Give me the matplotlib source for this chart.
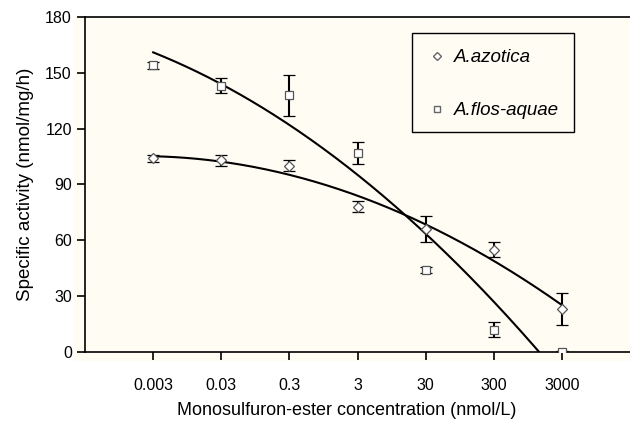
import numpy as np
import matplotlib
matplotlib.use("Agg")
import matplotlib.pyplot as plt
from matplotlib.patches import Rectangle

plt.rcParams["font.family"] = ["Liberation Sans", "DejaVu Sans"]

# ── data ─────────────────────────────────────────────────────────────────────
conc_labels = ["0.003", "0.03", "0.3", "3", "30", "300", "3000"]
azotica = [104, 103, 100, 78, 66, 55, 23]
azotica_err = [2, 3, 3, 3, 7, 4, 8.5]
flos = [154, 143, 138, 107, 44, 12, 0]
flos_err = [2, 4, 11, 6, 1.5, 4, 0.5]

pos = np.arange(1, len(conc_labels) + 1)
BG = "#fefcf3"

fig = plt.figure(figsize=(6.3, 4.21), dpi=100)
# cream plot area slightly larger than the axes box
fig.patches.append(Rectangle((74 / 630, 61 / 421), 556 / 630, 343 / 421,
                             transform=fig.transFigure, color=BG, zorder=-1))
ax = fig.add_axes([0.135, 0.164, 0.865, 0.796])
ax.set_zorder(1)
ax.set_facecolor(BG)

# second-order polynomial trend lines
xs = np.linspace(1, 7, 300)
ca = np.polyfit(pos, azotica, 2)
ax.plot(xs, np.polyval(ca, xs), color="black", lw=1.5, zorder=2)
cf = np.polyfit(pos, flos, 2)
yf = np.polyval(cf, xs)
keep = yf >= 0
ax.plot(xs[keep], yf[keep], color="black", lw=1.5, zorder=2)

ax.errorbar(pos, azotica, yerr=azotica_err, fmt="D", ms=5.5, mfc="white",
            mec="#555555", mew=0.9, ecolor="black", elinewidth=1.5,
            capsize=4, capthick=1.5, zorder=3)
ax.errorbar(pos, flos, yerr=flos_err, fmt="s", ms=6, mfc="white",
            mec="#555555", mew=0.9, ecolor="black", elinewidth=1.5,
            capsize=4, capthick=1.5, zorder=3)

ax.set_xlim(0, 8)
ax.set_ylim(0, 180)
ax.set_xticks(pos)
ax.set_xticklabels(conc_labels, fontsize=11.5)
ax.set_yticks(np.arange(0, 181, 30))
ax.tick_params(axis="y", labelsize=11.5, direction="out", length=6, width=1.2)
ax.tick_params(axis="x", direction="out", length=6, width=1.2, pad=13)
for s in ["left", "bottom", "top"]:
    ax.spines[s].set_linewidth(1.2)
ax.spines["right"].set_visible(False)

ax.set_xlabel("Monosulfuron-ester concentration (nmol/L)", fontsize=13)
ax.xaxis.set_label_coords(0.481, -0.149)
ax.set_ylabel("Specific activity (nmol/mg/h)", fontsize=13.5, labelpad=8)

# legend: frame drawn separately so it can be wider than its contents
ax.add_patch(Rectangle((0.600, 0.657), 0.297, 0.295, transform=ax.transAxes,
                       facecolor=BG, edgecolor="black", lw=1.0, zorder=4))
h_a = plt.Line2D([], [], ls="none", marker="D", ms=4, mfc="white", mec="#666666")
h_f = plt.Line2D([], [], ls="none", marker="s", ms=5, mfc="white", mec="#666666")
leg = ax.legend([h_a, h_f], ["A.azotica", "A.flos-aquae"],
                loc="upper left", bbox_to_anchor=(0.629, 0.903),
                prop={"style": "italic", "size": 13.5}, frameon=False,
                labelspacing=1.9, handletextpad=0.4, handlelength=1.0,
                borderpad=0, borderaxespad=0)
leg.set_zorder(5)

fig.savefig("out.png", dpi=100, facecolor="white")
